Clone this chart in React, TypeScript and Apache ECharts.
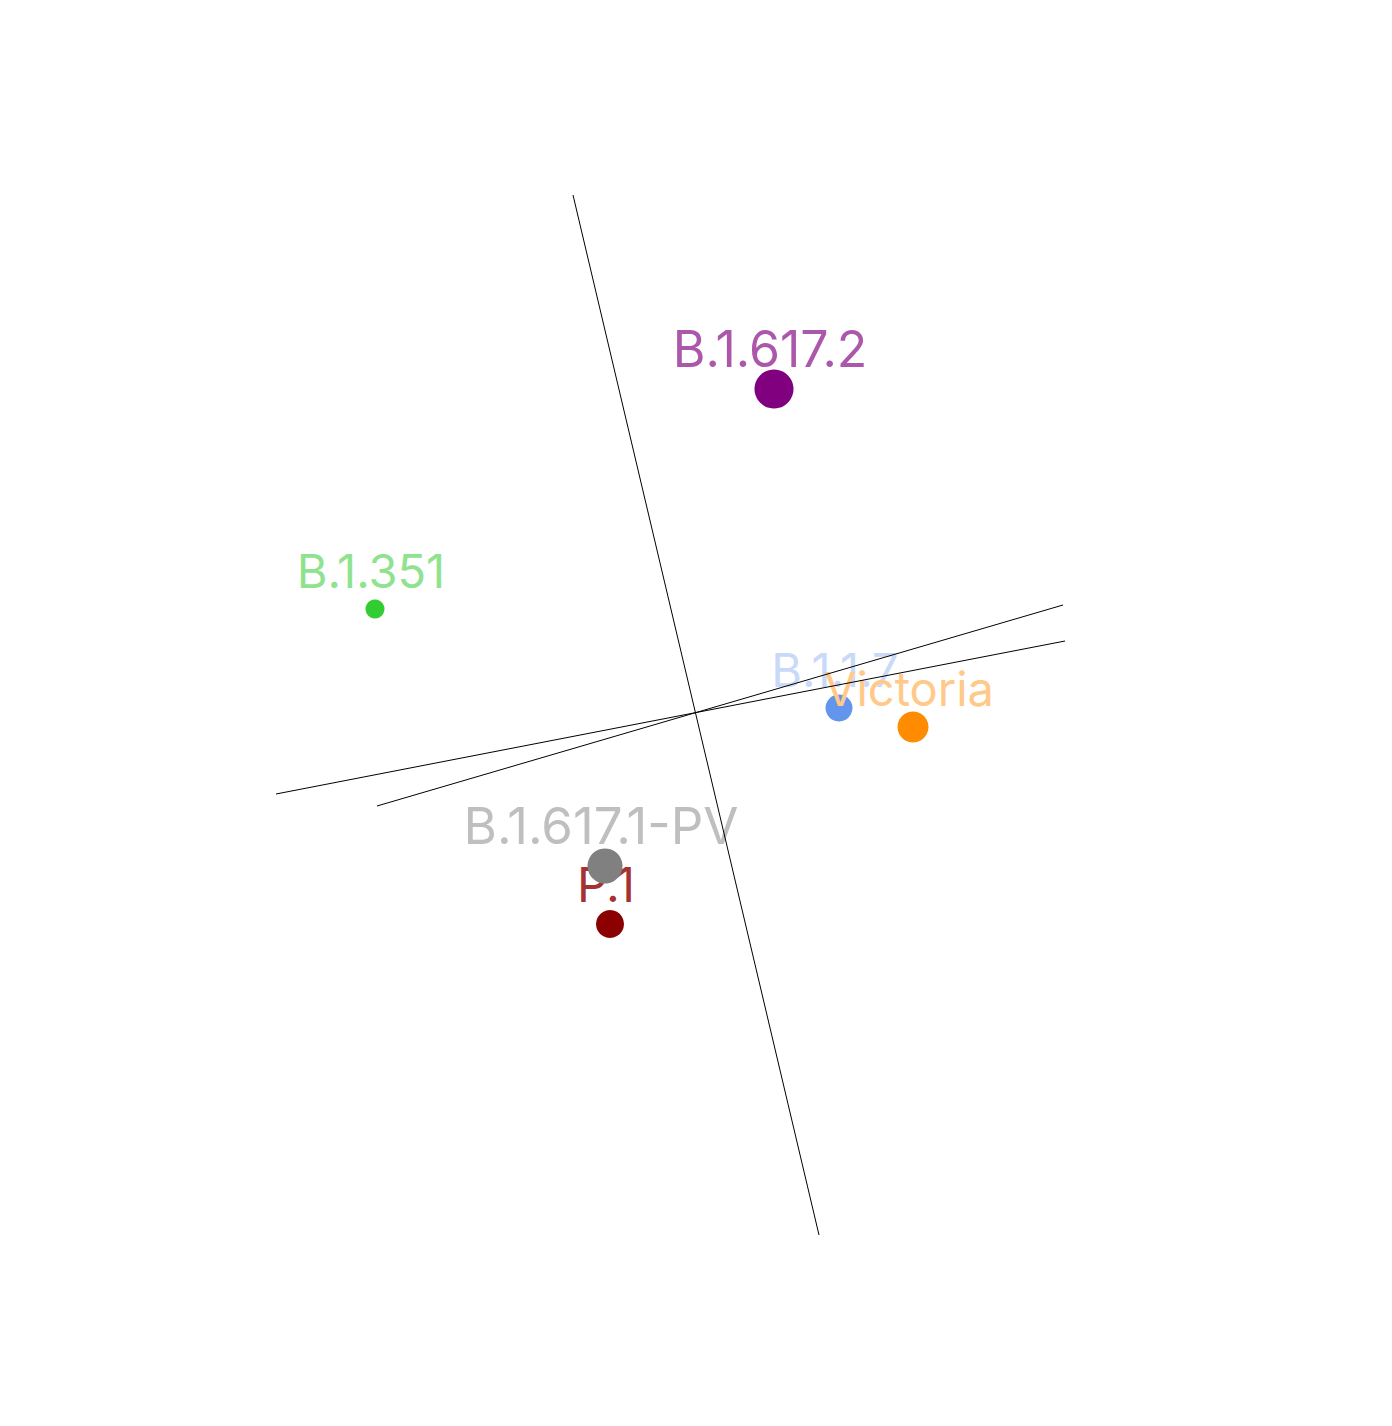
import React, { useEffect, useRef } from "react";
import * as echarts from "echarts";

// Projected coordinates (origin at the axes' crossing, y up), in chart units
const names = ["B.1.617.2", "B.1.351", "B.1.1.7", "Victoria", "B.1.617.1-PV", "P.1"];
const xs = [79, -320, 144, 218, -90, -85];
const ys = [323, 103, 4, -15, -154, -212];
const sizes = [39, 19, 27, 31, 35, 28];
const dotColors = ["#800080", "#32cd32", "#6495ed", "#ff8c00", "#808080", "#8b0000"];
const labelColors = ["#ab58ab", "#8fe38f", "#c9daf8", "#ffc98a", "#bfbfbf", "#a43232"];
const labelSizes = [50, 47, 47, 47, 51, 48];
const layer = [3, 2, 2, 3, 3, 2];

// Three projected axis lines (start and end points)
const axisLines = [
  [[-122, 517], [124, -523]],
  [[-419, -82], [370, 71]],
  [[-318, -94], [368, 107]],
];

export default function App() {
  const ref = useRef<HTMLDivElement>(null);
  useEffect(() => {
    document.body.style.margin = "0";
    const chart = echarts.init(ref.current!, undefined, { renderer: "svg" });
    const pointSeries = names.map((n, i) => ({
      type: "scatter",
      name: n,
      z: layer[i],
      symbol: "circle",
      symbolSize: sizes[i],
      itemStyle: { color: dotColors[i], opacity: 1 },
      label: {
        show: true,
        position: "inside",
        formatter: n,
        color: labelColors[i],
        fontFamily: "Inter",
        fontSize: labelSizes[i],
        align: "center",
        verticalAlign: "middle",
        offset: [-4, -22 - labelSizes[i] * 0.36],
      },
      emphasis: { disabled: true },
      data: [[xs[i], ys[i]]],
    }));
    const lineSeries = axisLines.map((l) => ({
      type: "line",
      z: 10,
      showSymbol: false,
      symbol: "none",
      lineStyle: { color: "#000", width: 1 },
      data: l,
      silent: true,
    }));
    chart.setOption({
      animation: false,
      grid: { left: 0, right: 0, top: 0, bottom: 0 },
      xAxis: { type: "value", min: -695, max: 697, show: false },
      yAxis: { type: "value", min: -714, max: 712, show: false },
      series: [...pointSeries, ...lineSeries],
    });
    return () => chart.dispose();
  }, []);
  return <div ref={ref} style={{ width: 1392, height: 1426, background: "#fff" }} />;
}
